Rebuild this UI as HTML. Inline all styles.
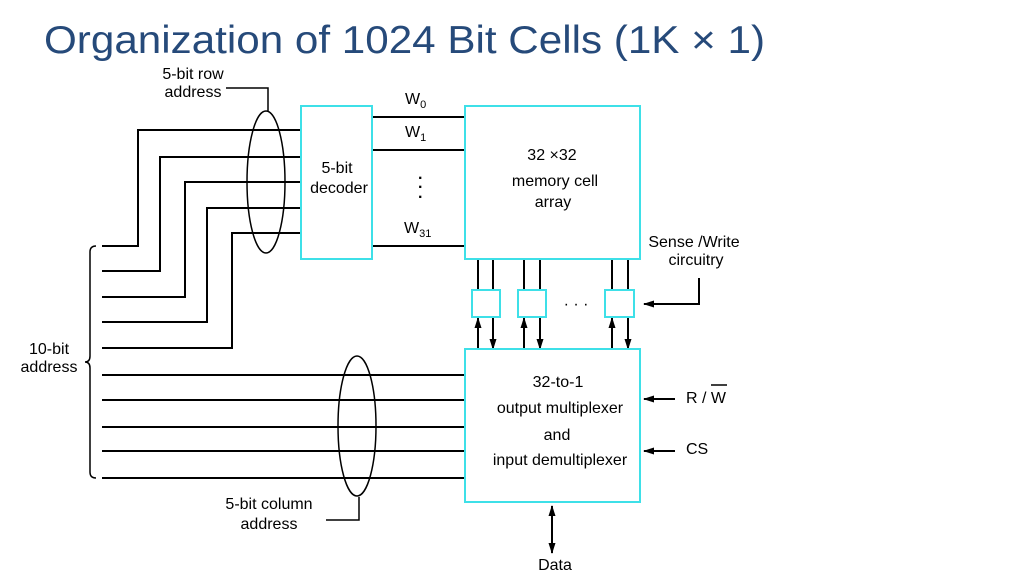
<!DOCTYPE html>
<html><head><meta charset="utf-8"><style>
body{margin:0;background:#fff;}
svg text{font-family:"Liberation Sans","DejaVu Sans",sans-serif;}
</style></head><body>
<svg width="1020" height="570" viewBox="0 0 1020 570" xmlns="http://www.w3.org/2000/svg">
<defs><marker id="a" markerWidth="11" markerHeight="8" refX="10" refY="4" orient="auto" markerUnits="userSpaceOnUse"><path d="M0,0.5 L11,4 L0,7.5 Z" fill="#000"/></marker></defs>
<text x="44" y="53" font-size="39" fill="#264a7a" textLength="721" lengthAdjust="spacingAndGlyphs">Organization of 1024 Bit Cells (1K × 1)</text>
<g stroke="#000" stroke-width="2" fill="none">
<polyline points="102,246 138,246 138,130 301,130"/>
<polyline points="102,271 160,271 160,157 301,157"/>
<polyline points="102,297 185,297 185,182 301,182"/>
<polyline points="102,322 207,322 207,208 301,208"/>
<polyline points="102,348 232,348 232,233 301,233"/>
<line x1="102" y1="375" x2="465" y2="375"/>
<line x1="102" y1="400" x2="465" y2="400"/>
<line x1="102" y1="427" x2="465" y2="427"/>
<line x1="102" y1="451" x2="465" y2="451"/>
<line x1="102" y1="478" x2="465" y2="478"/>
<line x1="372" y1="117" x2="465" y2="117"/>
<line x1="372" y1="150" x2="465" y2="150"/>
<line x1="372" y1="246" x2="465" y2="246"/>
<ellipse cx="266" cy="182" rx="19" ry="71" stroke-width="1.5"/>
<ellipse cx="357" cy="426" rx="19" ry="70" stroke-width="1.5"/>
<polyline points="226,88 268,88 268,111" stroke-width="1.5"/>
<polyline points="359,497 359,520 326,520" stroke-width="1.5"/>
<path d="M96,246 Q90,246 90,252 L90,356 Q90,362 85,362 Q90,362 90,368 L90,472 Q90,478 96,478" stroke-width="1.5"/>
<line x1="478" y1="259" x2="478" y2="290"/><line x1="493" y1="259" x2="493" y2="290"/>
<line x1="524" y1="259" x2="524" y2="290"/><line x1="540" y1="259" x2="540" y2="290"/>
<line x1="612" y1="259" x2="612" y2="290"/><line x1="628" y1="259" x2="628" y2="290"/>
<line x1="478" y1="349" x2="478" y2="318" marker-end="url(#a)"/>
<line x1="493" y1="318" x2="493" y2="349" marker-end="url(#a)"/>
<line x1="524" y1="349" x2="524" y2="318" marker-end="url(#a)"/>
<line x1="540" y1="318" x2="540" y2="349" marker-end="url(#a)"/>
<line x1="612" y1="349" x2="612" y2="318" marker-end="url(#a)"/>
<line x1="628" y1="318" x2="628" y2="349" marker-end="url(#a)"/>
<polyline points="699,278 699,304 644,304" marker-end="url(#a)"/>
<line x1="675" y1="399" x2="644" y2="399" marker-end="url(#a)"/>
<line x1="675" y1="451" x2="644" y2="451" marker-end="url(#a)"/>
<line x1="552" y1="530" x2="552" y2="506" marker-end="url(#a)"/>
<line x1="552" y1="530" x2="552" y2="553" marker-end="url(#a)"/>
</g>
<g stroke="#3ee0e8" stroke-width="2" fill="#fff">
<rect x="301" y="106" width="71" height="153"/>
<rect x="465" y="106" width="175" height="153"/>
<rect x="472" y="290" width="28" height="27"/>
<rect x="518" y="290" width="28" height="27"/>
<rect x="605" y="290" width="29" height="27"/>
<rect x="465" y="349" width="175" height="153"/>
</g>
<g font-size="16" fill="#000">
<text x="193" y="79" text-anchor="middle">5-bit row</text>
<text x="193" y="97" text-anchor="middle">address</text>
<text x="337" y="173" text-anchor="middle">5-bit</text>
<text x="339" y="193" text-anchor="middle">decoder</text>
<text x="405" y="104">W<tspan font-size="11" dy="4">0</tspan></text>
<text x="405" y="137">W<tspan font-size="11" dy="4">1</tspan></text>
<text x="404" y="233">W<tspan font-size="11" dy="4">31</tspan></text>
<text x="418" y="183" font-weight="bold">·</text>
<text x="418" y="192" font-weight="bold">·</text>
<text x="418" y="202" font-weight="bold">·</text>
<text x="552" y="160" text-anchor="middle">32 ×32</text>
<text x="555" y="186" text-anchor="middle">memory cell</text>
<text x="553" y="207" text-anchor="middle">array</text>
<text x="694" y="247" text-anchor="middle">Sense /Write</text>
<text x="696" y="265" text-anchor="middle">circuitry</text>
<text x="576" y="309" text-anchor="middle">· · ·</text>
<text x="558" y="387" text-anchor="middle">32-to-1</text>
<text x="560" y="413" text-anchor="middle">output multiplexer</text>
<text x="557" y="440" text-anchor="middle">and</text>
<text x="560" y="465" text-anchor="middle">input demultiplexer</text>
<text x="686" y="403">R / W</text>
<line x1="711" y1="385" x2="727" y2="385" stroke="#000" stroke-width="1.5"/>
<text x="686" y="454">CS</text>
<text x="555" y="570" text-anchor="middle">Data</text>
<text x="49" y="354" text-anchor="middle">10-bit</text>
<text x="49" y="372" text-anchor="middle">address</text>
<text x="269" y="509" text-anchor="middle">5-bit column</text>
<text x="269" y="529" text-anchor="middle">address</text>
</g>
</svg>
</body></html>
